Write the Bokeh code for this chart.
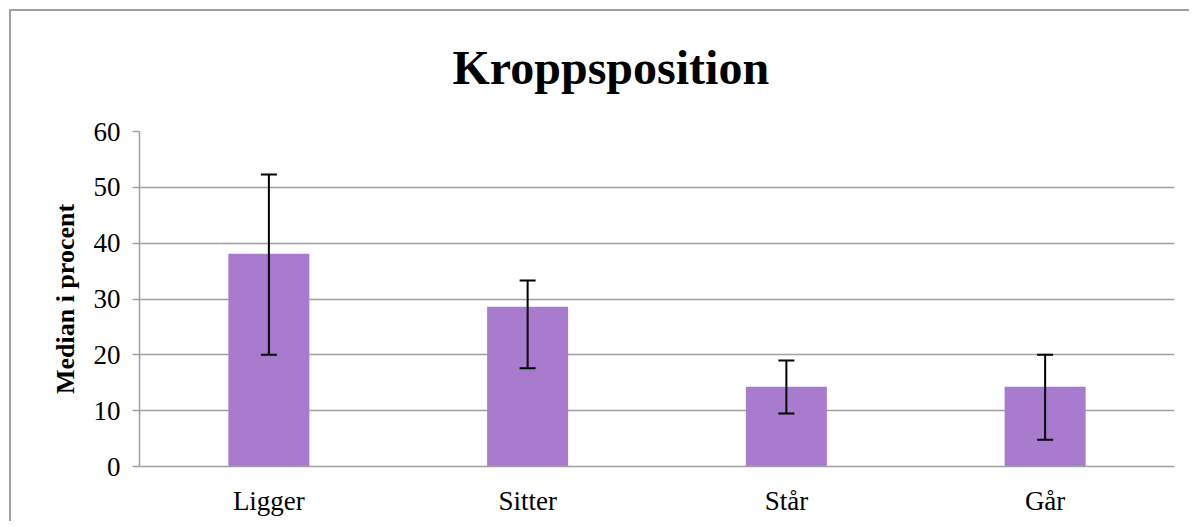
from bokeh.plotting import figure
from bokeh.models import ColumnDataSource, Whisker, TeeHead, Range1d, FixedTicker, Title
from bokeh.embed import file_html
from bokeh.resources import INLINE

categories = ["Ligger", "Sitter", "Står", "Går"]
medians = [38.1, 28.6, 14.3, 14.3]
err_lower = [20.0, 17.6, 9.5, 4.8]
err_upper = [52.3, 33.3, 19.0, 20.0]
y_ticks = [0, 10, 20, 30, 40, 50, 60]
title_text = "Kroppsposition"

SERIF = "Liberation Serif"
GRID = "#A0A0A0"
BAR = "#A97BCF"

src = ColumnDataSource(dict(cat=categories, val=medians, lo=err_lower, hi=err_upper))

p = figure(x_range=categories, y_range=Range1d(0, 60), width=1180, height=512,
           output_backend="svg", toolbar_location=None,
           min_border_left=128, min_border_right=17, min_border_top=120, min_border_bottom=57,
           styles={"border-left": "2px solid #A0A0A0", "border-top": "2px solid #A0A0A0",
                   "border-right": "none", "border-bottom": "none",
                   "margin-left": "9px", "margin-top": "9px"})
p.x_range.range_padding = 0
p.outline_line_color = None
p.background_fill_color = "white"
p.border_fill_color = "white"
p.title.text = ""

# small spacer next to the frame, then the real title outside it
p.add_layout(Title(text=" ", text_font_size="1px", standoff=10), "above")
p.add_layout(Title(text=title_text, text_font=SERIF, text_font_size="48px",
                   text_font_style="bold", text_color="black",
                   align="left", offset=313, standoff=50), "above")

p.vbar(x="cat", top="val", width=0.313, source=src, fill_color=BAR, line_color=None)

w = Whisker(base="cat", lower="lo", upper="hi", source=src, line_color="black", line_width=2,
            upper_head=TeeHead(size=16, line_color="black", line_width=2),
            lower_head=TeeHead(size=16, line_color="black", line_width=2), level="overlay")
p.add_layout(w)

p.xgrid.grid_line_color = None
p.ygrid.grid_line_color = GRID
p.ygrid.grid_line_width = 1.5
p.yaxis.ticker = FixedTicker(ticks=y_ticks)

for ax in (p.xaxis[0], p.yaxis[0]):
    ax.axis_line_color = GRID
    ax.axis_line_width = 1.5
    ax.major_label_text_font = SERIF
    ax.major_label_text_font_size = "27px"
    ax.major_label_text_color = "black"
    ax.minor_tick_line_color = None

p.xaxis.major_tick_line_color = None
p.xaxis.major_tick_out = 0
p.xaxis.major_label_standoff = 19

p.yaxis.major_tick_line_color = GRID
p.yaxis.major_tick_line_width = 1.5
p.yaxis.major_tick_out = 7
p.yaxis.major_tick_in = 0
p.yaxis.major_label_standoff = 12
p.yaxis.axis_label = "Median i procent"
p.yaxis.axis_label_text_font = SERIF
p.yaxis.axis_label_text_font_size = "26px"
p.yaxis.axis_label_text_font_style = "bold"
p.yaxis.axis_label_text_color = "black"
p.yaxis.axis_label_standoff = 11

open("out.html", "w").write(file_html(p, INLINE))
